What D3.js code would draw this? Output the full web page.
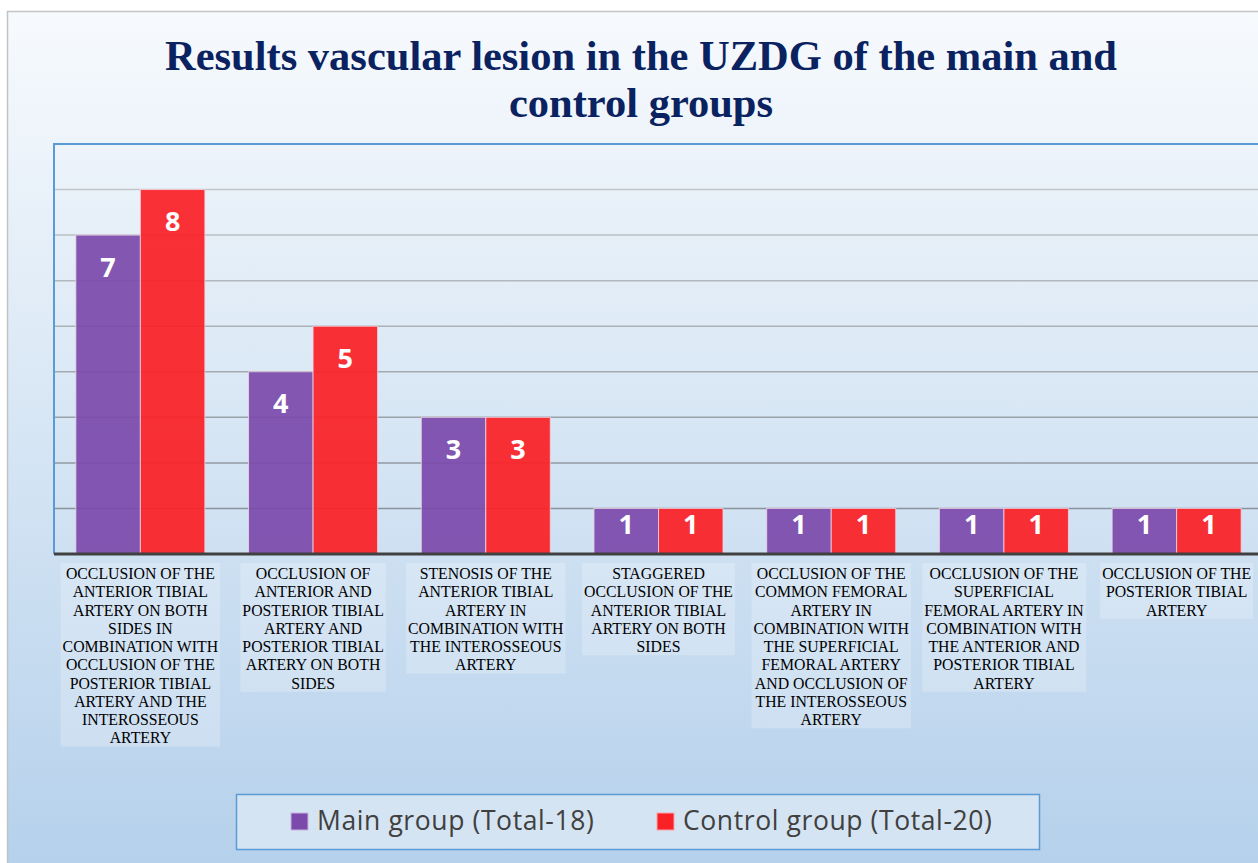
<!DOCTYPE html>
<html>
<head>
<meta charset="utf-8">
<script src="https://cdn.jsdelivr.net/npm/d3@7"></script>
<style>
  body { margin: 0; background: #fff; }
  svg { display: block; }
</style>
</head>
<body>
<svg id="chart"></svg>
<script>
// chart data
const categories = ["c1", "c2", "c3", "c4", "c5", "c6", "c7"];
const categoryLabels = [
    ["OCCLUSION OF THE", "ANTERIOR TIBIAL", "ARTERY ON BOTH", "SIDES IN", "COMBINATION WITH", "OCCLUSION OF THE", "POSTERIOR TIBIAL", "ARTERY AND THE", "INTEROSSEOUS", "ARTERY"],
    ["OCCLUSION OF", "ANTERIOR AND", "POSTERIOR TIBIAL", "ARTERY AND", "POSTERIOR TIBIAL", "ARTERY ON BOTH", "SIDES"],
    ["STENOSIS OF THE", "ANTERIOR TIBIAL", "ARTERY IN", "COMBINATION WITH", "THE INTEROSSEOUS", "ARTERY"],
    ["STAGGERED", "OCCLUSION OF THE", "ANTERIOR TIBIAL", "ARTERY ON BOTH", "SIDES"],
    ["OCCLUSION OF THE", "COMMON FEMORAL", "ARTERY IN", "COMBINATION WITH", "THE SUPERFICIAL", "FEMORAL ARTERY", "AND OCCLUSION OF", "THE INTEROSSEOUS", "ARTERY"],
    ["OCCLUSION OF THE", "SUPERFICIAL", "FEMORAL ARTERY IN", "COMBINATION WITH", "THE ANTERIOR AND", "POSTERIOR TIBIAL", "ARTERY"],
    ["OCCLUSION OF THE", "POSTERIOR TIBIAL", "ARTERY"]
];
const seriesNames = ["Main group (Total-18)", "Control group (Total-20)"];
const mainGroup = [7, 4, 3, 1, 1, 1, 1];
const controlGroup = [8, 5, 3, 1, 1, 1, 1];
const yTicks = [1, 2, 3, 4, 5, 6, 7, 8];
const titleLines = ["Results vascular lesion in the UZDG of the main and", "control groups"];

const W = 1258, H = 863;
const colors = ["#7b4aab", "#fa2126"];
const margin = {top: 144, left: 54, bottom: 554, right: 1263};

const svg = d3.select("#chart").attr("width", W).attr("height", H);

// background gradient
const defs = svg.append("defs");
const grad = defs.append("linearGradient")
    .attr("id", "bg").attr("x1", 0).attr("y1", 0).attr("x2", 0).attr("y2", 1);
grad.append("stop").attr("offset", "0%").attr("stop-color", "#f7fafd");
grad.append("stop").attr("offset", "100%").attr("stop-color", "#b4d0eb");

svg.append("rect")
    .attr("x", 7.5).attr("y", 11.5)
    .attr("width", 1270).attr("height", 870)
    .attr("fill", "url(#bg)")
    .attr("stroke", "#c3c3c3").attr("stroke-width", 1.5);

// title
svg.append("text")
    .attr("x", 641).attr("y", 70)
    .attr("text-anchor", "middle")
    .attr("font-family", "'Liberation Serif', 'Times New Roman', serif")
    .attr("font-weight", "bold")
    .attr("font-size", 42.5)
    .attr("fill", "#0a2260")
    .selectAll("tspan")
    .data(titleLines)
    .join("tspan")
        .attr("x", 641)
        .attr("dy", (d, i) => i === 0 ? 0 : 47)
        .text(d => d);

// scales
const xScale = d3.scaleBand()
    .domain(categories)
    .range([margin.left, margin.right])
    .paddingInner(0.253)
    .paddingOuter(0.1265);

const xSub = d3.scaleBand()
    .domain([0, 1])
    .range([0, xScale.bandwidth()]);

const yScale = d3.scaleLinear()
    .domain([0, 9])
    .range([margin.bottom, margin.top]);

// plot area border (left + top)
svg.append("path")
    .attr("d", `M${margin.left},${margin.bottom} V${margin.top} H${W + 10}`)
    .attr("fill", "none")
    .attr("stroke", "#5b9bd5")
    .attr("stroke-width", 2);

// gridlines
const gridColor = d3.scaleLinear().domain([8, 1]).range(["#c2c7cc", "#8a939b"]);
svg.append("g")
    .selectAll("line")
    .data(yTicks)
    .join("line")
        .attr("x1", margin.left + 1)
        .attr("x2", W + 10)
        .attr("y1", d => yScale(d))
        .attr("y2", d => yScale(d))
        .attr("stroke", d => gridColor(d))
        .attr("stroke-width", 1.5);

// bars
const rows = categories.map((c, i) => ({cat: c, values: [mainGroup[i], controlGroup[i]]}));

const groups = svg.append("g")
    .selectAll("g")
    .data(rows)
    .join("g")
        .attr("transform", d => `translate(${xScale(d.cat)},0)`);

groups.selectAll("rect")
    .data(d => d.values.map((v, k) => ({k, v})))
    .join("rect")
        .attr("x", d => xSub(d.k))
        .attr("y", d => yScale(d.v))
        .attr("width", xSub.bandwidth())
        .attr("height", d => yScale(0) - yScale(d.v))
        .attr("fill", d => colors[d.k])
        .attr("fill-opacity", 0.93)
        .attr("stroke", "#f2d6e6")
        .attr("stroke-opacity", 0.8)
        .attr("stroke-width", 1);

// data labels
groups.selectAll("text")
    .data(d => d.values.map((v, k) => ({k, v})))
    .join("text")
        .attr("x", d => xSub(d.k) + xSub.bandwidth() / 2)
        .attr("y", d => {
            const top = yScale(d.v);
            const h = yScale(0) - top;
            return top + Math.min(32, h / 2 - 7);
        })
        .attr("dy", "0.36em")
        .attr("text-anchor", "middle")
        .attr("font-family", "'Open Sans', 'Noto Sans', sans-serif")
        .attr("font-weight", "bold")
        .attr("font-size", 27)
        .attr("fill", "#ffffff")
        .text(d => d.v);

// x axis baseline
const xAxis = d3.axisBottom(xScale).tickSize(0).tickFormat("");
const xAxisG = svg.append("g")
    .attr("transform", `translate(0,${yScale(0)})`)
    .call(xAxis);
xAxisG.select(".domain")
    .attr("d", `M${margin.left},0 H${W + 10}`)
    .attr("stroke", "#404040")
    .attr("stroke-width", 3);

// category labels
const labelG = svg.append("g")
    .selectAll("g")
    .data(categories)
    .join("g")
        .attr("transform", d => `translate(${xScale(d) + xScale.bandwidth() / 2},0)`);

const lineH = 18.25;
const firstBase = 579;
labelG.each(function(d, i) {
    const g = d3.select(this);
    const box = g.append("rect");
    const t = g.append("text")
        .attr("text-anchor", "middle")
        .attr("font-family", "'Liberation Serif', 'Times New Roman', serif")
        .attr("font-size", 15.8)
        .attr("fill", "#000");
    t.selectAll("tspan")
        .data(categoryLabels[i])
        .join("tspan")
            .attr("x", 0)
            .attr("y", (s, j) => firstBase + j * lineH)
            .text(s => s);
    const bb = t.node().getBBox();
    box.attr("x", bb.x - 2)
        .attr("y", firstBase - 16)
        .attr("width", bb.width + 4)
        .attr("height", categoryLabels[i].length * lineH + 1)
        .attr("fill", "#ffffff")
        .attr("fill-opacity", 0.22);
});

// legend
const legend = svg.append("g");
legend.append("rect")
    .attr("x", 236.5).attr("y", 794.5)
    .attr("width", 803).attr("height", 55)
    .attr("fill", "#d5e4f2")
    .attr("stroke", "#5b9bd5")
    .attr("stroke-width", 1.5);

const legendX = [291, 657];
seriesNames.forEach((name, k) => {
    legend.append("rect")
        .attr("x", legendX[k]).attr("y", 813)
        .attr("width", 17).attr("height", 17)
        .attr("fill", colors[k])
        .attr("stroke", k === 0 ? "#c9b4e0" : "#f7a3a8")
        .attr("stroke-width", 1);
    legend.append("text")
        .attr("x", legendX[k] + 26).attr("y", 830)
        .attr("font-family", "'Open Sans', 'Noto Sans', sans-serif")
        .attr("font-size", 26.5)
        .attr("letter-spacing", 0.6)
        .attr("fill", "#404040")
        .text(name);
});
</script>
</body>
</html>
